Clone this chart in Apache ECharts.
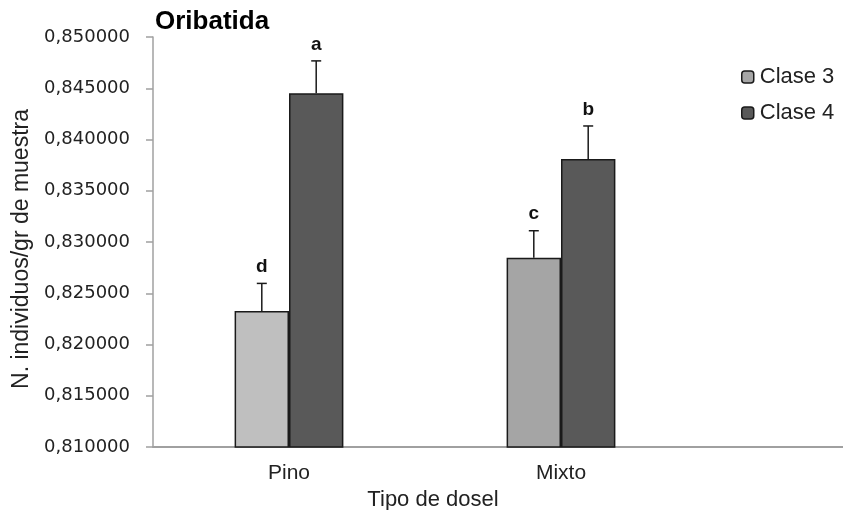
<!DOCTYPE html>
<html><head><meta charset="utf-8">
<script src="https://cdn.jsdelivr.net/npm/echarts@6/dist/echarts.min.js"></script>
<style>html,body{margin:0;padding:0;background:#fff}#c{width:843px;height:510px}</style>
</head><body><div id="c"></div>
<script>
const categories = ['Pino', 'Mixto'];
const seriesNames = ['Clase 3', 'Clase 4'];
const clase3 = [0.82328, 0.82846];
const clase4 = [0.84451, 0.83810];
const err3 = [0.00268, 0.00264];
const err4 = [0.00316, 0.00322];
const letters3 = ['d', 'c'];
const letters4 = ['a', 'b'];
const yTicks = { min: 0.81, max: 0.85, interval: 0.005 };

const FONT = 'Liberation Sans, Arial, sans-serif';
const TICKFONT = 'DejaVu Sans, Verdana, sans-serif';
const c3colors = ['#bfbfbf', '#a5a5a5'];
const c3legend = '#a6a6a6';
const c4color = '#595959';

function errSeries(vals, errs, letters, seriesIdx) {
  return {
    type: 'custom',
    xAxisIndex: 0, yAxisIndex: 0,
    z: 5,
    silent: true,
    data: vals.map((v, i) => [i, v, v + errs[i], letters[i]]),
    renderItem: function (params, api) {
      const ci = api.value(0);
      const base = api.coord([ci, api.value(1)]);
      const top = api.coord([ci, api.value(2)]);
      const band = api.size([1, 0])[0];
      const barW = band * 0.2;
      const x = base[0] + (seriesIdx === 0 ? -barW / 2 : barW / 2);
      const cap = 5;
      return {
        type: 'group',
        children: [
          { type: 'line', shape: { x1: x, y1: base[1], x2: x, y2: top[1] }, style: { stroke: '#1a1a1a', lineWidth: 1.5 } },
          { type: 'line', shape: { x1: x - cap, y1: top[1], x2: x + cap, y2: top[1] }, style: { stroke: '#1a1a1a', lineWidth: 1.5 } },
          { type: 'text', style: { text: api.value(3), x: x, y: top[1] - 7, align: 'center', verticalAlign: 'bottom', font: 'bold 19px ' + FONT, fill: '#111' } }
        ]
      };
    }
  };
}

const chart = echarts.init(document.getElementById('c'));
chart.setOption({
  animation: false,
  backgroundColor: '#fff',
  title: { text: 'Oribatida', left: 150, top: 4, textStyle: { fontFamily: FONT, fontSize: 26, fontWeight: 'bold', color: '#000' } },
  legend: {
    orient: 'vertical', left: 736, top: 61, itemWidth: 12, itemHeight: 12, itemGap: 14,
    data: [
      { name: 'Clase 3', itemStyle: { color: c3legend, borderColor: '#1a1a1a', borderWidth: 1.5 } },
      { name: 'Clase 4', itemStyle: { color: c4color, borderColor: '#1a1a1a', borderWidth: 1.5 } }
    ],
    textStyle: { fontFamily: FONT, fontSize: 22, color: '#222', padding: [0, 0, 0, 1] }
  },
  grid: [
    { left: 153, top: 37, right: 146, bottom: 63, containLabel: false, outerBoundsMode: 'none' },
    { left: 697, top: 37, right: 0, bottom: 63, containLabel: false, outerBoundsMode: 'none' }
  ],
  xAxis: [
    {
      type: 'category', gridIndex: 0, data: categories,
      axisLine: { lineStyle: { color: '#a0a0a0', width: 2 } },
      axisTick: { show: false },
      axisLabel: { fontFamily: FONT, fontSize: 21, color: '#222', margin: 16 },
      name: 'Tipo de dosel', nameLocation: 'middle', nameGap: 34,
      nameTextStyle: { fontFamily: FONT, fontSize: 22, color: '#222', padding: [0, 0, 0, 16] }
    },
    {
      type: 'category', gridIndex: 1, data: [''],
      axisLine: { lineStyle: { color: '#a0a0a0', width: 2 } },
      axisTick: { show: false }, axisLabel: { show: false }
    }
  ],
  yAxis: [
    {
      type: 'value', gridIndex: 0, min: yTicks.min, max: yTicks.max, interval: yTicks.interval,
      axisLine: { show: true, lineStyle: { color: '#a0a0a0', width: 1.5 } },
      axisTick: { show: true, inside: false, length: 7, lineStyle: { color: '#a0a0a0', width: 1.5 } },
      splitLine: { show: false },
      axisLabel: { fontFamily: TICKFONT, fontSize: 18, color: '#222', margin: 23,
        formatter: v => v.toFixed(6).replace('.', ',') },
      name: 'N. individuos/gr de muestra', nameLocation: 'middle', nameGap: 118, nameRotate: 90,
      nameTextStyle: { fontFamily: FONT, fontSize: 23, color: '#222', padding: [0, 14, 0, 0] }
    },
    { type: 'value', gridIndex: 1, show: false, min: 0, max: 1 }
  ],
  series: [
    {
      name: 'Clase 3', type: 'bar', xAxisIndex: 0, yAxisIndex: 0,
      barGap: '0%', barCategoryGap: '60%',
      data: clase3.map((v, i) => ({ value: v, itemStyle: { color: c3colors[i] } })),
      itemStyle: { color: c3legend, borderColor: '#1a1a1a', borderWidth: 1.5 }
    },
    {
      name: 'Clase 4', type: 'bar', xAxisIndex: 0, yAxisIndex: 0,
      barGap: '0%', barCategoryGap: '60%',
      data: clase4,
      itemStyle: { color: c4color, borderColor: '#1a1a1a', borderWidth: 1.5 }
    },
    errSeries(clase3, err3, letters3, 0),
    errSeries(clase4, err4, letters4, 1)
  ]
});
</script></body></html>
